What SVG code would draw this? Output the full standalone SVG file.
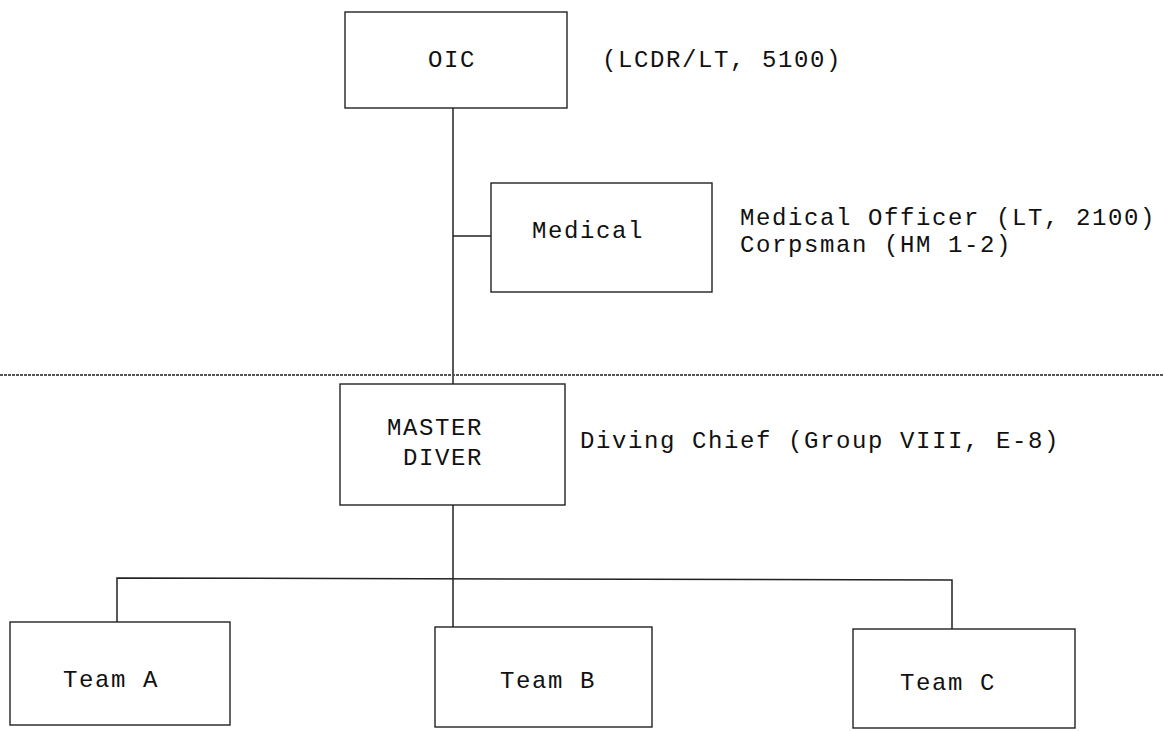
<svg xmlns="http://www.w3.org/2000/svg" width="1164" height="731" viewBox="0 0 1164 731">
<style>
.box{fill:none;stroke:#222;stroke-width:1.4}
.ln{fill:none;stroke:#222;stroke-width:1.5}
.t{font-family:"Liberation Mono","Courier New",monospace;font-size:24px;letter-spacing:1.6px;fill:#111}
</style>
<rect width="1164" height="731" fill="#fff"/>
<g id="connectors">
<line class="ln" x1="453" y1="108" x2="453" y2="384"/>
<line class="ln" x1="453" y1="236" x2="491" y2="236"/>
<line class="ln" x1="453" y1="505" x2="453" y2="627"/>
<polyline class="ln" points="117,622 117,578 952,580 952,629"/>
</g>
<line id="separator" x1="0" y1="375" x2="1164" y2="375" stroke="#555" stroke-width="2" stroke-dasharray="3 1"/>
<g id="oic">
<rect class="box" x="345" y="12" width="222" height="96"/>
<text class="t" x="428" y="67">OIC</text>
<text class="t" x="602" y="67">(LCDR/LT, 5100)</text>
</g>
<g id="medical">
<rect class="box" x="491" y="183" width="221" height="109"/>
<text class="t" x="532" y="238">Medical</text>
<text class="t" x="740" y="225">Medical Officer (LT, 2100)</text>
<text class="t" x="740" y="252">Corpsman (HM 1-2)</text>
</g>
<g id="master">
<rect class="box" x="340" y="384" width="225" height="121"/>
<text class="t" x="387" y="435">MASTER</text>
<text class="t" x="403" y="465">DIVER</text>
<text class="t" x="580" y="448">Diving Chief (Group VIII, E-8)</text>
</g>
<g id="teamA">
<rect class="box" x="10" y="622" width="220" height="103"/>
<text class="t" x="63" y="687">Team A</text>
</g>
<g id="teamB">
<rect class="box" x="435" y="627" width="217" height="100"/>
<text class="t" x="500" y="688">Team B</text>
</g>
<g id="teamC">
<rect class="box" x="853" y="629" width="222" height="99"/>
<text class="t" x="900" y="690">Team C</text>
</g>
</svg>
